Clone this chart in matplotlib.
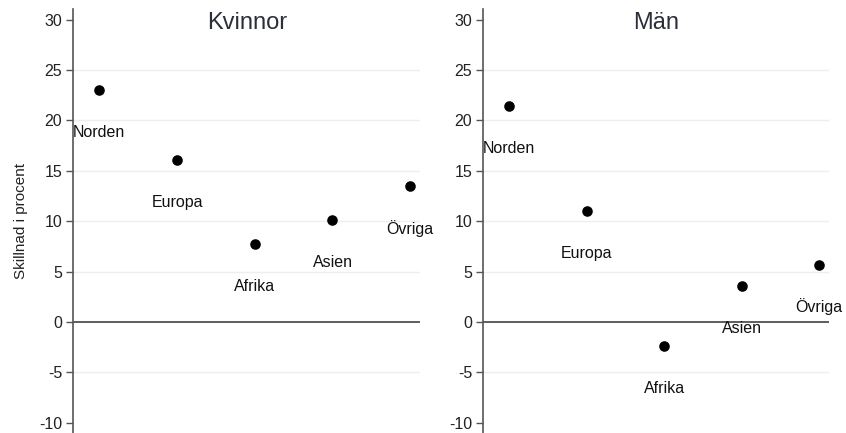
import matplotlib
matplotlib.use("Agg")
import matplotlib.pyplot as plt

plt.rcParams['font.family'] = ['Liberation Sans', 'DejaVu Sans']

regions = ["Norden", "Europa", "Afrika", "Asien", "Övriga"]
kvinnor = [23.0, 16.1, 7.7, 10.1, 13.5]
man = [21.4, 11.0, -2.4, 3.6, 5.7]
panel_titles = ["Kvinnor", "Män"]
yticks = [-10, -5, 0, 5, 10, 15, 20, 25, 30]
ylabel = "Skillnad i procent"

fig = plt.figure(figsize=(8.46, 4.33), dpi=100)
ax1 = fig.add_axes([73.3 / 846, 0.0, 347 / 846, 1 - 9 / 433])
ax2 = fig.add_axes([483.3 / 846, 0.0, 346 / 846, 1 - 9 / 433])

label_offset = 4.2
for ax, vals, title in zip([ax1, ax2], [kvinnor, man], panel_titles):
    x = list(range(1, len(regions) + 1))
    for t in yticks[1:-1]:
        if t == 0:
            continue
        ax.axhline(t, color="#e9f0f0", lw=1.0, zorder=0)
    ax.axhline(0, color="#333333", lw=1.1, zorder=1)
    ax.scatter(x, vals, s=58, color="black", zorder=3, linewidths=0)
    for xi, v, name in zip(x, vals, regions):
        ax.text(xi, v - label_offset, name, ha="center", va="center",
                fontsize=11.5, color="#111111")
    ax.set_xlim(0.665, 5.13)
    ax.set_ylim(-11.02, 31.06)
    ax.set_yticks(yticks)
    ax.set_yticklabels([str(t) for t in yticks], fontsize=11.5, color="#222222")
    ax.tick_params(axis="y", length=5, width=1, color="#555555", pad=3)
    ax.set_xticks([])
    for s in ["top", "right", "bottom"]:
        ax.spines[s].set_visible(False)
    ax.spines["left"].set_color("#555555")
    ax.spines["left"].set_linewidth(1.2)
    ax.text(0.5, 1 - 14 / 424, title, transform=ax.transAxes, ha="center",
            va="center", fontsize=17, color="#2a2f3a")
    ax.patch.set_alpha(0)

ax1.set_ylabel(ylabel, fontsize=11, color="#222222", labelpad=8)

fig.savefig("out.png", dpi=100, facecolor="white")
